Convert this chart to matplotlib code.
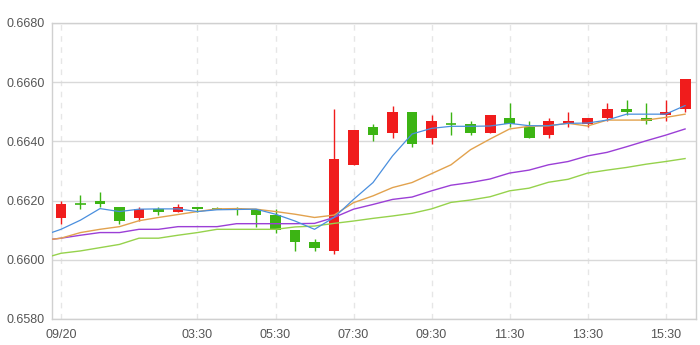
import numpy as np
import matplotlib
matplotlib.use("Agg")
import matplotlib.pyplot as plt

# 30-minute candles, 09/20 00:00 - 16:00
times = [
    "00:00", "00:30", "01:00", "01:30", "02:00", "02:30", "03:00", "03:30",
    "04:00", "04:30", "05:00", "05:30", "06:00", "06:30", "07:00", "07:30",
    "08:00", "08:30", "09:00", "09:30", "10:00", "10:30", "11:00", "11:30",
    "12:00", "12:30", "13:00", "13:30", "14:00", "14:30", "15:00", "15:30",
    "16:00",
]
opens = [
    0.6614, 0.6619, 0.6620, 0.6618, 0.6614, 0.6617, 0.6616, 0.6618,
    0.6617, 0.6617, 0.6617, 0.6615, 0.6610, 0.6606, 0.6603, 0.6632,
    0.6645, 0.6643, 0.6650, 0.6641, 0.6646, 0.6646, 0.6643, 0.6648,
    0.6645, 0.6642, 0.6646, 0.6646, 0.6648, 0.6651, 0.6648, 0.6649,
    0.6651,
]
closes = [
    0.6619, 0.6619, 0.6619, 0.6613, 0.6617, 0.6616, 0.6618, 0.6617,
    0.6617, 0.6617, 0.6615, 0.6610, 0.6606, 0.6604, 0.6634, 0.6644,
    0.6642, 0.6650, 0.6639, 0.6647, 0.6646, 0.6643, 0.6649, 0.6646,
    0.6641, 0.6647, 0.6647, 0.6648, 0.6651, 0.6650, 0.6647, 0.6650,
    0.6661,
]
highs = [
    0.6620, 0.6622, 0.6623, 0.6618, 0.6618, 0.6618, 0.6619, 0.6618,
    0.6618, 0.6618, 0.6617, 0.6617, 0.6610, 0.6607, 0.6651, 0.6644,
    0.6646, 0.6652, 0.6650, 0.6649, 0.6650, 0.6647, 0.6649, 0.6653,
    0.6647, 0.6648, 0.6650, 0.6648, 0.6653, 0.6654, 0.6653, 0.6654,
    0.6661,
]
lows = [
    0.6612, 0.6617, 0.6618, 0.6612, 0.6613, 0.6615, 0.6616, 0.6616,
    0.6617, 0.6615, 0.6611, 0.6609, 0.6603, 0.6603, 0.6602, 0.6632,
    0.6640, 0.6641, 0.6638, 0.6639, 0.6642, 0.6642, 0.6643, 0.6645,
    0.6641, 0.6641, 0.6645, 0.6645, 0.6647, 0.6649, 0.6646, 0.6647,
    0.6650,
]

# moving averages; first point is the previous bar (23:30), clipped at the axis
ma_blue = [
    0.66080, 0.66103, 0.66134, 0.66173, 0.66163, 0.66171, 0.66172, 0.66172,
    0.66163, 0.66169, 0.66170, 0.66171, 0.66154, 0.66131, 0.66103, 0.66143,
    0.66204, 0.66261, 0.66351, 0.66425, 0.66444, 0.66451, 0.66451, 0.66452,
    0.66461, 0.66453, 0.66453, 0.66461, 0.66462, 0.66472, 0.66492, 0.66492,
    0.66492, 0.66521,
]
ma_orange = [
    0.66065, 0.66073, 0.66092, 0.66103, 0.66112, 0.66132, 0.66143, 0.66153,
    0.66163, 0.66172, 0.66173, 0.66171, 0.66163, 0.66154, 0.66143, 0.66151,
    0.66193, 0.66216, 0.66244, 0.66261, 0.66291, 0.66321, 0.66372, 0.66408,
    0.66442, 0.66451, 0.66453, 0.66461, 0.66452, 0.66472, 0.66472, 0.66472,
    0.66481, 0.66492,
]
ma_purple = [
    0.66065, 0.66073, 0.66083, 0.66092, 0.66092, 0.66103, 0.66103, 0.66112,
    0.66112, 0.66112, 0.66122, 0.66122, 0.66122, 0.66122, 0.66123, 0.66143,
    0.66171, 0.66187, 0.66204, 0.66212, 0.66233, 0.66252, 0.66261, 0.66273,
    0.66293, 0.66303, 0.66321, 0.66332, 0.66351, 0.66363, 0.66382, 0.66402,
    0.66421, 0.66442,
]
ma_green = [
    0.66003, 0.66022, 0.66030, 0.66041, 0.66052, 0.66073, 0.66073, 0.66083,
    0.66092, 0.66103, 0.66103, 0.66103, 0.66103, 0.66111, 0.66114, 0.66123,
    0.66131, 0.66140, 0.66148, 0.66157, 0.66172, 0.66194, 0.66202, 0.66213,
    0.66233, 0.66242, 0.66262, 0.66272, 0.66293, 0.66303, 0.66312, 0.66323,
    0.66332, 0.66342,
]

tick_times = ["00:00", "03:30", "05:30", "07:30", "09:30", "11:30", "13:30", "15:30"]
tick_labels = ["09/20", "03:30", "05:30", "07:30", "09:30", "11:30", "13:30", "15:30"]
y_ticks = [0.6580, 0.6600, 0.6620, 0.6640, 0.6660, 0.6680]

UP = "#f01c1c"
DOWN = "#3cb414"
GRID = "#d9d9d9"

plt.rcParams["font.family"] = ["Liberation Sans", "DejaVu Sans"]

fig = plt.figure(figsize=(7.0, 3.45), dpi=100)
ax = fig.add_axes([52 / 700, 26 / 345, 644 / 700, 296 / 345])

x = np.arange(len(times))
body_w = 0.56

for xi, o, c, h, l in zip(x, opens, closes, highs, lows):
    col = UP if c > o else DOWN
    ax.vlines(xi, l, h, color=col, linewidth=1.0, zorder=3)
    if abs(c - o) < 1e-9:
        ax.hlines(o, xi - body_w / 2, xi + body_w / 2, color=col, linewidth=1.2, zorder=3)
    else:
        ax.bar(xi, abs(c - o), bottom=min(o, c), width=body_w, color=col,
               linewidth=0, zorder=3)

x_ma = np.arange(-1, len(times))
ax.plot(x_ma, ma_green, color="#96d24c", linewidth=1.0, zorder=4)
ax.plot(x_ma, ma_purple, color="#9b3fd6", linewidth=1.0, zorder=4)
ax.plot(x_ma, ma_orange, color="#e2a24e", linewidth=1.0, zorder=4)
ax.plot(x_ma, ma_blue, color="#4a8fde", linewidth=0.9, zorder=5)

ax.set_xlim(-0.46, len(times) - 0.44)
ax.set_ylim(y_ticks[0], y_ticks[-1])

ax.set_yticks(y_ticks)
ax.set_yticklabels([f"{v:.4f}" for v in y_ticks])
tick_pos = [times.index(t) for t in tick_times]
ax.set_xticks(tick_pos)
ax.set_xticklabels(tick_labels)

ax.grid(axis="y", color=GRID, linewidth=1.0, zorder=0)
for tp in tick_pos:
    ax.axvline(tp, color="#e6e6e6", linewidth=1.0, linestyle=(0, (4, 4)), zorder=0)

ax.tick_params(axis="both", length=0, labelsize=9, colors="#555555")
ax.tick_params(axis="y", pad=5)
ax.tick_params(axis="x", pad=7)
for s in ax.spines.values():
    s.set_color("#d0d0d0")
    s.set_linewidth(1.0)

fig.savefig("out.png", dpi=100)
